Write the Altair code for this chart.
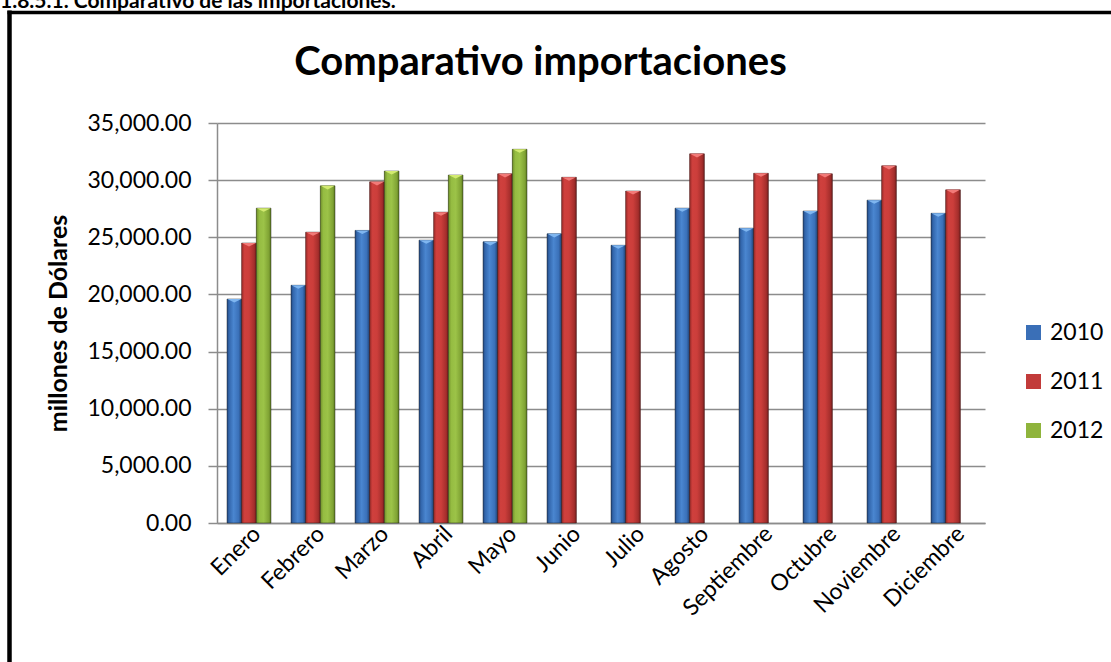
import altair as alt
import pandas as pd

months = ["Enero", "Febrero", "Marzo", "Abril", "Mayo", "Junio", "Julio",
          "Agosto", "Septiembre", "Octubre", "Noviembre", "Diciembre"]
years = ["2010", "2011", "2012"]
v2010 = [19600, 20800, 25600, 24750, 24600, 25300, 24300, 27550, 25800, 27300, 28250, 27100]
v2011 = [24500, 25450, 29850, 27200, 30550, 30250, 29050, 32300, 30600, 30550, 31250, 29150]
v2012 = [27550, 29500, 30800, 30450, 32700]
y_ticks = [0, 5000, 10000, 15000, 20000, 25000, 30000, 35000]

chart_title = "Comparativo importaciones"
header_text = "1.8.5.1. Comparativo de las importaciones."
y_title = "millones de Dólares"

rows = []
for yr, vals in zip(years, [v2010, v2011, v2012]):
    for m, v in zip(months, vals):
        rows.append({"mes": m, "anio": yr, "valor": v})
df = pd.DataFrame(rows)

FONT = "Lato"
GRID = "#8c8c8c"
base_colors = ["#3a6fb7", "#c23b3a", "#8fb43c"]


def grad(stops):
    return {"gradient": "linear", "x1": 0, "x2": 1, "y1": 0, "y2": 0,
            "stops": [{"offset": o, "color": c} for o, c in stops]}


g_blue = grad([(0, "#24497f"), (0.15, "#3367ad"), (0.45, "#4a86d0"), (0.8, "#3a70b8"), (1, "#1f3f70")])
g_red = grad([(0, "#a02d2b"), (0.2, "#cf403d"), (0.5, "#cc3e3b"), (0.85, "#a52e2c"), (1, "#7a1f1e")])
g_green = grad([(0, "#6f8f2a"), (0.2, "#95bc42"), (0.5, "#9cc348"), (0.85, "#80a334"), (1, "#5c7a20")])

x_enc = alt.X("mes:N", sort=months,
              scale=alt.Scale(domain=months, paddingInner=0.3125, paddingOuter=0.15625),
              axis=alt.Axis(title=None, labelAngle=315, labelAlign="right", labelBaseline="middle",
                            labelFontSize=23, labelFont=FONT, labelColor="black",
                            labelPadding=7, labelOffset=8, ticks=False,
                            domainColor=GRID, domainWidth=1.5, grid=False))
xo_enc = alt.XOffset("anio:N", scale=alt.Scale(domain=years, paddingInner=0, paddingOuter=0))
y_enc = alt.Y("valor:Q", scale=alt.Scale(domain=[0, 35000], nice=False),
              axis=alt.Axis(values=y_ticks, format=",.2f", labelFontSize=23, labelFont=FONT,
                            labelColor="black", labelPadding=17, tickSize=9, tickColor=GRID,
                            tickWidth=1.5, domainColor=GRID, domainWidth=1.5,
                            gridColor=GRID, gridWidth=1.6,
                            title=y_title, titleFont=FONT, titleFontSize=25,
                            titleFontWeight="bold", titleColor="black",
                            titleX=-159, titleY=200, titleAngle=270,
                            titleAlign="center", titleBaseline="middle"))

bars = alt.Chart(df).mark_bar().encode(
    x=x_enc, xOffset=xo_enc, y=y_enc,
    color=alt.Color("anio:N", scale=alt.Scale(domain=years, range=base_colors),
                    legend=alt.Legend(title=None, orient="none", legendX=805, legendY=198,
                                      labelFontSize=23, labelFont=FONT, labelColor="black",
                                      symbolType="square", symbolSize=225, symbolStrokeWidth=0,
                                      rowPadding=25, labelOffset=5, padding=0))
)

overlay = alt.Chart(df).mark_bar(stroke="#1a1a1a", strokeWidth=0.8, strokeOpacity=0.55).encode(
    x=alt.X("mes:N", sort=months), xOffset="anio:N", y="valor:Q",
    fill=alt.when(alt.datum.anio == "2010").then(alt.value(g_blue))
    .when(alt.datum.anio == "2011").then(alt.value(g_red))
    .otherwise(alt.value(g_green))
)

tops = alt.Chart(df).mark_point(shape="M-1,0L1,0L0,0.5Z", filled=True, size=200, opacity=1).encode(
    x=alt.X("mes:N", sort=months), xOffset="anio:N", y="valor:Q",
    fill=alt.when(alt.datum.anio == "2010").then(alt.value("#7fb6f0"))
    .when(alt.datum.anio == "2011").then(alt.value("#f27a78"))
    .otherwise(alt.value("#d2ea70"))
)

one = pd.DataFrame({"t": [chart_title]})
title_layer = alt.Chart(one).mark_text(font=FONT, fontSize=40, fontWeight="bold", color="black",
                                       align="center", baseline="middle").encode(
    text="t:N", x=alt.value(323.5), y=alt.value(-60))

hdr = pd.DataFrame({"t": [header_text]})
header_layer = alt.Chart(hdr).mark_text(font=FONT, fontSize=21, fontWeight="bold", color="black",
                                        align="left", baseline="alphabetic").encode(
    text="t:N", x=alt.value(-217), y=alt.value(-115))

edge = pd.DataFrame({"k": [1]})
left_border = alt.Chart(edge).mark_rule(color="black", strokeWidth=4.5).encode(
    x=alt.value(-207.5), y=alt.value(-112.5), y2=alt.value(560))
top_border = alt.Chart(edge).mark_rule(color="black", strokeWidth=3.5).encode(
    x=alt.value(-209.5), x2=alt.value(900), y=alt.value(-110.5))

chart = alt.layer(bars, overlay, tops, title_layer, header_layer, left_border, top_border).properties(
    width=768, height=400,
    autosize=alt.AutoSizeParams(type="none"),
    padding={"left": 217, "top": 123, "right": 126, "bottom": 139},
    background="white",
).configure_view(stroke=None)

chart.save("out.html", embed_options={"renderer": "svg", "actions": False})
